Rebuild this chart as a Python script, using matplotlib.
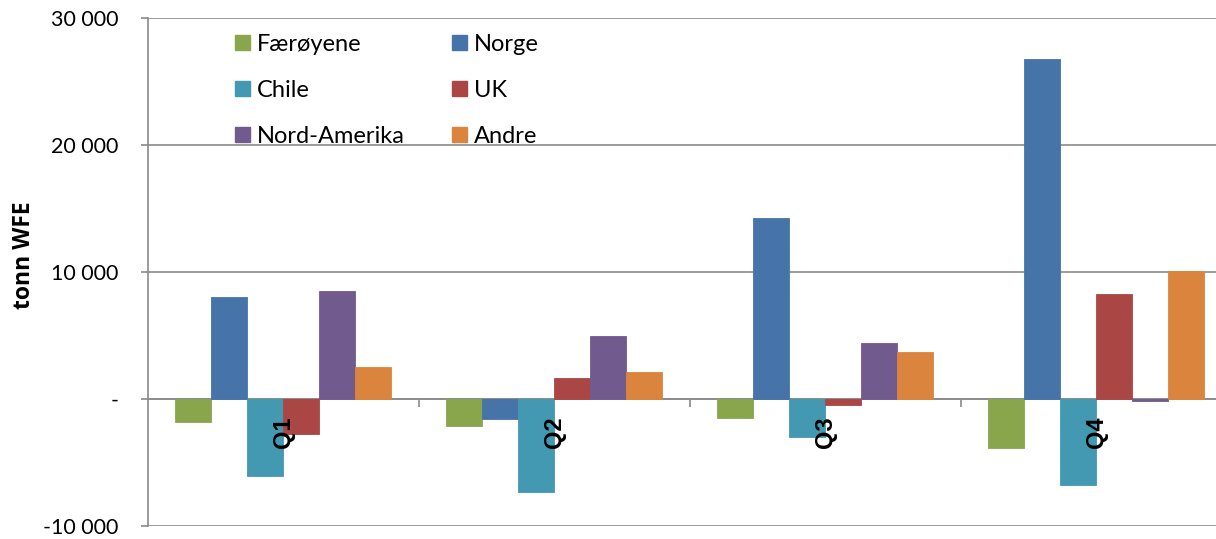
import matplotlib
matplotlib.use("Agg")
import matplotlib.pyplot as plt
import numpy as np
from matplotlib.patches import Patch
from matplotlib.ticker import FuncFormatter

quarters = ["Q1", "Q2", "Q3", "Q4"]
series_names = ["Færøyene", "Norge", "Chile", "UK", "Nord-Amerika", "Andre"]
faeroyene = [-1800, -2100, -1500, -3850]
norge = [8000, -1550, 14250, 26800]
chile = [-6100, -7300, -3000, -6770]
uk = [-2750, 1650, -500, 8270]
nord_amerika = [8500, 4960, 4430, -130]
andre = [2500, 2100, 3700, 10050]
colors = ["#8AA64C", "#4674A8", "#4399B1", "#AA4644", "#715A8E", "#DB843D"]
yticks = [-10000, 0, 10000, 20000, 30000]

series = [faeroyene, norge, chile, uk, nord_amerika, andre]

plt.rcParams['font.family'] = ['Lato', 'DejaVu Sans']

fig = plt.figure(figsize=(12.16, 5.39), dpi=100)
ax = fig.add_axes([148/1216, 1-526/539, 1-148/1216, 508/539])

x = np.arange(len(quarters))
w = 36/271
handles = []
for j, (name, vals, c) in enumerate(zip(series_names, series, colors)):
    ax.bar(x + (j - 2.5) * w, vals, width=w, color=c, edgecolor=c,
           linewidth=0.6, zorder=3, label=name)
    handles.append(Patch(facecolor=c, edgecolor=c, label=name))

ax.set_xlim(-0.5, 3.441)
ax.set_ylim(-10000, 30000)
ax.set_yticks(yticks)

def fmt(v, pos):
    if v == 0:
        return "-"
    s = f"{int(abs(v)):,}".replace(",", " ")
    return ("-" if v < 0 else "") + s

ax.yaxis.set_major_formatter(FuncFormatter(fmt))
ax.yaxis.grid(True, color="#8A8A8A", linewidth=1.2, zorder=1)
ax.set_axisbelow(True)
ax.tick_params(axis='y', labelsize=15.5, length=5, width=1.2, color="#8A8A8A",
               pad=16, labelcolor="black")

for s in ["top", "right"]:
    ax.spines[s].set_visible(False)
ax.spines["left"].set_color("#8A8A8A")
ax.spines["left"].set_linewidth(1.2)
ax.spines["bottom"].set_position(("data", 0))
ax.spines["bottom"].set_color("#8A8A8A")
ax.spines["bottom"].set_linewidth(1.2)
ax.set_xticks([0.5, 1.5, 2.5])
ax.set_xticklabels([])
ax.tick_params(axis='x', length=6, width=1.2, color="#8A8A8A")

for i, q in enumerate(quarters):
    ax.text(i, -1350, q, rotation=90, ha="center", va="top", fontsize=17,
            fontweight="bold", family="Liberation Sans", zorder=5)

fig.text(24/1216, 1-255/539, "tonn WFE", rotation=90, ha="center", va="center",
         fontsize=16.5, fontweight="bold", family="Open Sans")

order = [0, 2, 4, 1, 3, 5]
leg = ax.legend([handles[k] for k in order], [series_names[k] for k in order],
                ncol=2, frameon=False, fontsize=17, loc="upper left",
                bbox_to_anchor=(87/1068, 1 - 16/508), handlelength=0.63,
                handleheight=0.63, handletextpad=0.3, columnspacing=2.0,
                labelspacing=1.05, borderaxespad=0, borderpad=0)

fig.savefig("out.png", dpi=100)
